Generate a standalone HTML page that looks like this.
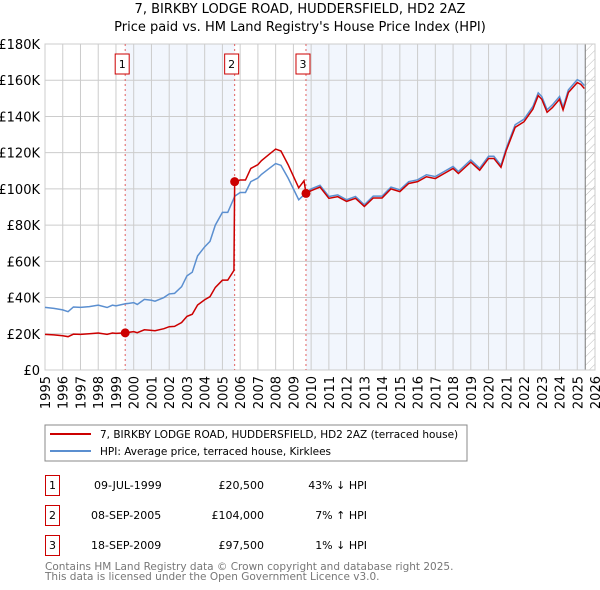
<!DOCTYPE html>
<html><head><meta charset="utf-8"><style>
body{margin:0;background:#fff;font-family:"Liberation Sans","DejaVu Sans",sans-serif;}
#w{position:relative;width:600px;height:590px;overflow:hidden;}
svg text{font-family:"DejaVu Sans","Liberation Sans",sans-serif;}
</style></head><body><div id="w">
<svg id="c" width="600" height="590" xmlns="http://www.w3.org/2000/svg">
<defs><pattern id="hatch" width="6" height="6" patternUnits="userSpaceOnUse" patternTransform="rotate(45)"><line x1="0" y1="0" x2="0" y2="6" stroke="#bbb" stroke-width="1"/></pattern></defs>
<text x="300" y="13" text-anchor="middle" font-size="13">7, BIRKBY LODGE ROAD, HUDDERSFIELD, HD2 2AZ</text>
<text x="300" y="31" text-anchor="middle" font-size="13">Price paid vs. HM Land Registry's House Price Index (HPI)</text>
<g id="plot"></g>
<rect x="45" y="425" width="422" height="36" fill="#fff" stroke="#888"/>
<line x1="50" y1="434" x2="91" y2="434" stroke="#cc0000" stroke-width="2"/>
<text x="100" y="438" font-size="10.5">7, BIRKBY LODGE ROAD, HUDDERSFIELD, HD2 2AZ (terraced house)</text>
<line x1="50" y1="451" x2="91" y2="451" stroke="#5b8fd0" stroke-width="2"/>
<text x="100" y="455" font-size="10.5">HPI: Average price, terraced house, Kirklees</text>
<g font-size="11">
<rect x="45.5" y="475.5" width="14" height="20" fill="#fff" stroke="#cc0000"/><text x="52.5" y="489" text-anchor="middle">1</text>
<text x="94" y="489">09-JUL-1999</text>
<text x="264" y="489" text-anchor="end">£20,500</text>
<text x="367" y="489" text-anchor="end">43% ↓ HPI</text>
<rect x="45.5" y="505.5" width="14" height="20" fill="#fff" stroke="#cc0000"/><text x="52.5" y="519" text-anchor="middle">2</text>
<text x="91" y="519">08-SEP-2005</text>
<text x="264" y="519" text-anchor="end">£104,000</text>
<text x="367" y="519" text-anchor="end">7% ↑ HPI</text>
<rect x="45.5" y="535.5" width="14" height="20" fill="#fff" stroke="#cc0000"/><text x="52.5" y="549" text-anchor="middle">3</text>
<text x="91" y="549">18-SEP-2009</text>
<text x="264" y="549" text-anchor="end">£97,500</text>
<text x="367" y="549" text-anchor="end">1% ↓ HPI</text>
</g>
<text x="45" y="570" font-size="10.5" fill="#777">Contains HM Land Registry data © Crown copyright and database right 2025.</text>
<text x="45" y="580" font-size="10.5" fill="#777">This data is licensed under the Open Government Licence v3.0.</text>
</svg></div>
<script>
const hpiYears=[1995,1995.5,1996,1996.3,1996.6,1997,1997.5,1998,1998.5,1998.8,1999,1999.5,2000,2000.2,2000.6,2001,2001.2,2001.7,2002,2002.3,2002.7,2003,2003.3,2003.6,2004,2004.3,2004.6,2005,2005.3,2005.7,2006,2006.3,2006.6,2007,2007.2,2007.6,2008,2008.3,2008.7,2009,2009.3,2009.7,2010,2010.5,2011,2011.5,2012,2012.5,2013,2013.5,2014,2014.5,2015,2015.5,2016,2016.5,2017,2017.5,2018,2018.3,2019,2019.5,2020,2020.3,2020.7,2021,2021.5,2022,2022.5,2022.8,2023,2023.3,2023.6,2024,2024.2,2024.5,2025,2025.2,2025.4];
const hpiValues=[34.6,34.0,33.2,32.2,34.8,34.6,35.0,35.8,34.5,35.8,35.4,36.5,37.2,36.2,39.0,38.5,38.0,40.0,42.0,42.3,46.0,52.0,54.0,63.0,68.0,71.0,80.0,87.0,87.0,96.0,98.0,98.0,104.0,106.0,108.0,111.0,114.0,113.0,106.0,100.0,94.0,97.6,100.0,102.0,95.8,96.7,94.0,95.8,91.2,96.0,96.0,101.0,99.5,104.0,105.0,107.8,106.8,109.6,112.4,109.6,116.0,111.4,118.0,118.0,113.0,122.5,135.4,138.5,145.5,153.0,151.0,143.7,146.4,151.0,145.0,154.7,160.3,159.3,157.0];
const priceYears=[1995,1995.5,1996,1996.3,1996.6,1997,1997.5,1998,1998.5,1998.8,1999,1999.5,2000,2000.2,2000.6,2001,2001.2,2001.7,2002,2002.3,2002.7,2003,2003.3,2003.6,2004,2004.3,2004.6,2005,2005.3,2005.65,2005.69,2006,2006.3,2006.6,2007,2007.2,2007.6,2008,2008.3,2008.7,2009,2009.3,2009.6,2009.71,2010,2010.5,2011,2011.5,2012,2012.5,2013,2013.5,2014,2014.5,2015,2015.5,2016,2016.5,2017,2017.5,2018,2018.3,2019,2019.5,2020,2020.3,2020.7,2021,2021.5,2022,2022.5,2022.8,2023,2023.3,2023.6,2024,2024.2,2024.5,2025,2025.2,2025.4];
const priceValues=[19.7,19.4,18.9,18.4,19.8,19.7,20.0,20.4,19.7,20.4,20.2,20.5,21.2,20.6,22.2,21.9,21.7,22.8,23.9,24.1,26.2,29.6,30.8,35.9,38.8,40.5,45.6,49.6,49.6,55.0,104.0,104.9,104.9,111.3,113.4,115.6,118.8,122.0,120.9,113.4,107.0,100.6,104.5,97.5,99.0,101.0,94.8,95.7,93.1,94.8,90.3,95.0,95.0,100.0,98.5,103.0,104.0,106.7,105.7,108.5,111.3,108.5,114.8,110.3,116.8,116.8,111.9,121.3,134.0,137.1,144.0,151.5,149.5,142.3,144.9,149.5,143.6,153.2,158.7,157.7,155.4];
const saleYears=[1999.52,2005.69,2009.71];
const saleValues=[20.5,104.0,97.5];
const saleLabels=["1","2","3"];
const yTicks=[0,20,40,60,80,100,120,140,160,180];
const xTicks=[1995,1996,1997,1998,1999,2000,2001,2002,2003,2004,2005,2006,2007,2008,2009,2010,2011,2012,2013,2014,2015,2016,2017,2018,2019,2020,2021,2022,2023,2024,2025,2026];
const X0=45,X1=595,Y0=370,Y1=44;
const xs=y=>X0+(y-1995)/(2026-1995)*(X1-X0);
const ys=v=>Y0-v/180*(Y0-Y1);
const NS="http://www.w3.org/2000/svg";
const g=document.getElementById('plot');
function mk(t,a){const e=document.createElementNS(NS,t);for(const k in a)e.setAttribute(k,a[k]);g.appendChild(e);return e;}
let e;
e=mk('rect',{x:xs(saleYears[0]),y:Y1,width:xs(saleYears[1])-xs(saleYears[0]),height:Y0-Y1,fill:'#f2f6fd'});


e=mk('rect',{x:xs(saleYears[2]),y:Y1,width:xs(2025.45)-xs(saleYears[2]),height:Y0-Y1,fill:'#f2f6fd'});


e=mk('rect',{x:xs(2025.45),y:Y1,width:X1-xs(2025.45),height:Y0-Y1,fill:'url(#hatch)'});


yTicks.forEach(v=>{
 e=mk('line',{x1:X0,x2:X1,y1:ys(v),y2:ys(v),stroke:'#ccc','stroke-width':1});
 
 
 e=mk('text',{x:40,y:ys(v)+5,'text-anchor':'end','font-size':13});
 e.textContent=v===0?'£0':'£'+v+'K';
 
 
});
xTicks.forEach(y=>{
 e=mk('line',{x1:xs(y),x2:xs(y),y1:Y1,y2:Y0,stroke:'#ccc','stroke-width':1});
 
 
 e=mk('text',{x:0,y:0,'text-anchor':'end','font-size':13,transform:`translate(${xs(y)+5},376) rotate(-90)`});
 e.textContent=y;
 
 
});
e=mk('line',{x1:xs(2025.45),x2:xs(2025.45),y1:Y1,y2:Y0,stroke:'#777','stroke-width':1});


e=mk('rect',{x:X0,y:Y1,width:X1-X0,height:Y0-Y1,fill:'none',stroke:'#ccc'});


saleYears.forEach((y,i)=>{
 e=mk('line',{x1:xs(y),x2:xs(y),y1:Y1,y2:Y0,stroke:'#e06060','stroke-width':1,'stroke-dasharray':'2,3'});
 
 
 e=mk('rect',{x:xs(y)-10,y:54,width:14,height:20,fill:'#fff',stroke:'#cc0000'});
 
 
 e=mk('text',{x:xs(y)-3,y:68,'text-anchor':'middle','font-size':11});
 e.textContent=saleLabels[i];
 
 
});
e=mk('polyline',{points:hpiYears.map((y,i)=>xs(y)+','+ys(hpiValues[i])).join(' '),fill:'none',stroke:'#5b8fd0','stroke-width':1.5});


e=mk('polyline',{points:priceYears.map((y,i)=>xs(y)+','+ys(priceValues[i])).join(' '),fill:'none',stroke:'#cc0000','stroke-width':1.5});


saleYears.forEach((y,i)=>{
 e=mk('circle',{cx:xs(y),cy:ys(saleValues[i]),r:4.5,fill:'#cc0000'});
 
 
});
</script></body></html>
